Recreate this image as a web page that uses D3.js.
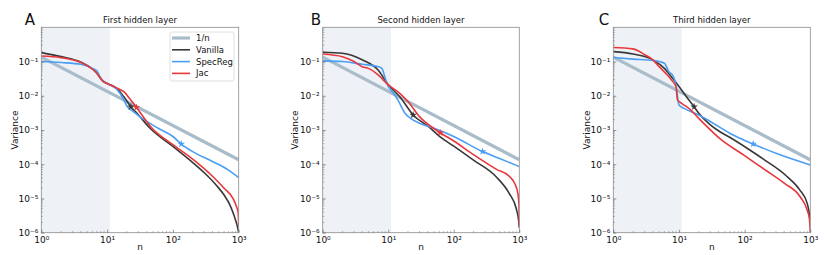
<!DOCTYPE html>
<html>
<head>
<meta charset="utf-8">
<script src="https://cdn.jsdelivr.net/npm/d3@7"></script>
<style>
  body { margin: 0; background: #fff; }
  svg { font-family: "DejaVu Sans", sans-serif; }
</style>
</head>
<body>
<div id="chart"></div>
<script>
const width = 830, height = 255;

const panelLetters = ["A", "B", "C"];
const panelTitles = ["First hidden layer", "Second hidden layer", "Third hidden layer"];
const seriesNames = ["1/n", "Vanilla", "SpecReg", "Jac"];
const seriesColors = ["#a9bcca", "#383838", "#4b9ef3", "#e8383c"];
const xTicks = [1, 10, 100, 1000];
const yTicks = [1e-1, 1e-2, 1e-3, 1e-4, 1e-5, 1e-6];
const shadeEnd = 11;

// reference 1/n line (scaled)
const invN = [[1, 0.135], [1000, 0.000135]];

// [n, log10 variance]
const vanillaA = [[1,-0.74],[2,-0.857],[4,-1.02],[7,-1.34],[8.8,-1.59],[10,-1.64],[14,-1.78],[18,-2.03],[23,-2.32],[30,-2.56],[45,-2.95],[100,-3.48],[200,-3.95],[300,-4.25],[460,-4.62],[600,-4.9],[740,-5.2],[850,-5.5],[950,-5.8],[1000,-6.0]];
const specA = [[1,-1.0],[2,-1.03],[4,-1.08],[6,-1.2],[7,-1.27],[8,-1.49],[10,-1.64],[14,-1.81],[18,-2.12],[20,-2.3],[25,-2.46],[40,-2.75],[60,-2.95],[100,-3.19],[134,-3.41],[200,-3.63],[400,-3.92],[700,-4.17],[1000,-4.39]];
const jacA = [[1,-0.84],[2,-0.886],[4,-1.03],[7,-1.34],[8.8,-1.59],[10,-1.64],[15,-1.8],[18,-1.88],[22,-2.08],[28,-2.34],[35,-2.6],[45,-2.88],[100,-3.43],[200,-3.85],[400,-4.35],[600,-4.7],[830,-5.02],[930,-5.25],[980,-5.4],[1000,-5.8]];
const vanillaB = [[1,-0.73],[2,-0.76],[4,-0.95],[7,-1.25],[10,-1.68],[15,-2.03],[24,-2.56],[43,-2.93],[62,-3.2],[100,-3.47],[200,-3.88],[450,-4.38],[700,-4.85],[900,-5.3],[970,-5.6],[1000,-5.85]];
const specB = [[1,-0.98],[2,-1.0],[4,-1.08],[7,-1.15],[8,-1.2],[9,-1.49],[10,-1.73],[12,-1.92],[14,-2.12],[18,-2.51],[22,-2.66],[30,-2.8],[50,-2.95],[100,-3.19],[275,-3.63],[500,-3.83],[1000,-4.07]];
const jacB = [[1,-0.78],[2,-0.86],[3,-1.0],[4,-1.15],[5,-1.2],[7,-1.39],[10,-1.68],[15,-1.93],[20,-2.17],[30,-2.61],[62,-3.08],[100,-3.32],[200,-3.72],[450,-4.15],[700,-4.35],[870,-4.6],[950,-4.85],[990,-5.2],[1000,-5.8]];
const vanillaC = [[1,-0.71],[2,-0.78],[4,-0.95],[6,-1.2],[8,-1.49],[10,-1.73],[13,-2.03],[17,-2.32],[20,-2.51],[30,-2.85],[42,-3.05],[60,-3.22],[135,-3.65],[200,-3.87],[437,-4.35],[690,-4.75],[900,-5.15],[1000,-5.6]];
const specC = [[1,-0.88],[2,-0.93],[4,-0.97],[6,-1.05],[7,-1.3],[8,-1.4],[9,-1.68],[10,-2.27],[12,-2.37],[20,-2.56],[30,-2.75],[60,-3.1],[135,-3.41],[300,-3.68],[1000,-4.02]];
const jacC = [[1,-0.59],[2,-0.63],[3,-0.8],[4,-0.95],[5,-1.15],[7,-1.44],[8,-1.58],[9,-1.73],[9.5,-2.12],[11,-2.22],[15,-2.41],[20,-2.66],[42,-3.25],[100,-3.75],[200,-4.15],[400,-4.55],[700,-4.95],[900,-5.35],[970,-5.6],[1000,-6.0]];

// star markers [n, log10 variance]
const starsA = [[23,-2.32],[28,-2.34],[134,-3.41]];
const starsB = [[24,-2.56],[62,-3.08],[275,-3.63]];
const starsC = [[17,-2.32],[135,-3.41]];

const panels = [
  { x0: 41.3, x1: 238.7, series: [vanillaA, specA, jacA], stars: starsA, starCol: [1, 3, 2], legend: true, ylab: 15, letterX: 30 },
  { x0: 322.7, x1: 519.3, series: [vanillaB, specB, jacB], stars: starsB, starCol: [1, 3, 2], legend: false, ylab: 295, letterX: 316 },
  { x0: 613.3, x1: 810.3, series: [vanillaC, specC, jacC], stars: starsC, starCol: [1, 2], legend: false, ylab: 587, letterX: 604 }
];
const yTop = 27.3, yBot = 232.7;

const svg = d3.select("#chart").append("svg")
  .attr("width", width)
  .attr("height", height);

const supers = { "0": "⁰", "1": "¹", "2": "²", "3": "³", "-": "⁻", "4": "⁴", "5": "⁵", "6": "⁶" };
function powLabel(v) {
  const e = Math.round(Math.log10(v));
  return "10" + String(e).split("").map(c => supers[c]).join("");
}

panels.forEach((p, i) => {
  const x = d3.scaleLog().domain([1, 1000]).range([p.x0, p.x1]);
  const y = d3.scaleLog().domain([1e-6, 1]).range([yBot, yTop]);
  const g = svg.append("g");

  g.append("rect")
    .attr("x", x(1)).attr("y", yTop)
    .attr("width", x(shadeEnd) - x(1)).attr("height", yBot - yTop)
    .attr("fill", "#eef1f5");

  const clipId = "clip" + i;
  g.append("clipPath").attr("id", clipId).append("rect")
    .attr("x", p.x0).attr("y", yTop).attr("width", p.x1 - p.x0).attr("height", yBot - yTop);

  const line = d3.line().x(d => x(d[0])).y(d => y(d[1]));
  const lineLog = d3.line()
    .x(d => x(d[0]))
    .y(d => y(Math.pow(10, d[1])))
    .curve(d3.curveMonotoneX);

  const plot = g.append("g").attr("clip-path", `url(#${clipId})`);
  plot.append("path")
    .datum(invN)
    .attr("d", line)
    .attr("fill", "none")
    .attr("stroke", seriesColors[0])
    .attr("stroke-width", 3.2);

  p.series.forEach((s, k) => {
    plot.append("path")
      .datum(s)
      .attr("d", lineLog)
      .attr("fill", "none")
      .attr("stroke", seriesColors[k + 1])
      .attr("stroke-width", 1.6)
      .attr("stroke-linejoin", "round");
  });

  p.stars.forEach((s, k) => {
    plot.append("path")
      .attr("d", d3.symbol().type(d3.symbolStar).size(18)())
      .attr("transform", `translate(${x(s[0])},${y(Math.pow(10, s[1]))})`)
      .attr("fill", seriesColors[p.starCol[k]]);
  });

  // frame
  g.append("rect")
    .attr("x", p.x0).attr("y", yTop)
    .attr("width", p.x1 - p.x0).attr("height", yBot - yTop)
    .attr("fill", "none").attr("stroke", "#8a8a8a").attr("stroke-width", 0.8);

  // axes
  const xAxis = d3.axisBottom(x).tickValues(xTicks).tickFormat(powLabel).tickSizeInner(-3).tickSizeOuter(0);
  const xg = g.append("g").attr("transform", `translate(0,${yBot})`).call(xAxis);
  const yAxis = d3.axisLeft(y).tickValues(yTicks).tickFormat(powLabel).tickSizeInner(-3).tickSizeOuter(0);
  const yg = g.append("g").attr("transform", `translate(${p.x0},0)`).call(yAxis);
  [xg, yg].forEach(a => {
    a.select(".domain").remove();
    a.selectAll("line").attr("stroke", "#555").attr("stroke-width", 0.6);
    a.selectAll("text").attr("fill", "#111").style("font-size", "9px").style("font-family", "DejaVu Sans");
  });
  xg.selectAll("text").attr("dy", "0.9em").attr("y", 2);
  yg.selectAll("text").attr("x", -3);

  // minor ticks
  const xMinor = [];
  [1, 10, 100].forEach(b => { for (let m = 2; m <= 9; m++) xMinor.push(b * m); });
  g.append("g").selectAll("line").data(xMinor).join("line")
    .attr("x1", d => x(d)).attr("x2", d => x(d))
    .attr("y1", yBot).attr("y2", yBot - 1.6)
    .attr("stroke", "#666").attr("stroke-width", 0.5);
  const yMinor = [];
  [1e-6, 1e-5, 1e-4, 1e-3, 1e-2, 1e-1].forEach(b => { for (let m = 2; m <= 9; m++) yMinor.push(b * m); });
  g.append("g").selectAll("line").data(yMinor).join("line")
    .attr("x1", p.x0).attr("x2", p.x0 + 1.6)
    .attr("y1", d => y(d)).attr("y2", d => y(d))
    .attr("stroke", "#666").attr("stroke-width", 0.5);

  // labels
  g.append("text")
    .attr("x", (p.x0 + p.x1) / 2).attr("y", 23)
    .attr("text-anchor", "middle")
    .style("font-size", "8.5px").attr("fill", "#111")
    .text(panelTitles[i]);
  g.append("text")
    .attr("x", p.letterX).attr("y", 25)
    .attr("text-anchor", "middle")
    .style("font-size", "15px").attr("fill", "#111")
    .text(panelLetters[i]);
  g.append("text")
    .attr("x", (p.x0 + p.x1) / 2).attr("y", 250)
    .attr("text-anchor", "middle")
    .style("font-size", "9px").attr("fill", "#111")
    .text("n");
  g.append("text")
    .attr("transform", `translate(${p.ylab},${(yTop + yBot) / 2}) rotate(-90)`)
    .attr("text-anchor", "middle")
    .attr("dy", "0.35em")
    .style("font-size", "9px").attr("fill", "#111")
    .text("Variance");

  if (p.legend) {
    const lg = g.append("g");
    lg.append("rect")
      .attr("x", 170).attr("y", 32).attr("width", 64).attr("height", 49)
      .attr("rx", 2)
      .attr("fill", "#fff").attr("fill-opacity", 0.85)
      .attr("stroke", "#d8d8d8").attr("stroke-width", 0.8);
    seriesNames.forEach((nm, k) => {
      const yy = 38 + k * 11.8;
      lg.append("line")
        .attr("x1", 172).attr("x2", 190).attr("y1", yy).attr("y2", yy)
        .attr("stroke", seriesColors[k])
        .attr("stroke-width", k === 0 ? 3.2 : 1.6);
      lg.append("text")
        .attr("x", 196).attr("y", yy).attr("dy", "0.35em")
        .style("font-size", "8.5px").attr("fill", "#111")
        .text(nm);
    });
  }
});
</script>
</body>
</html>
